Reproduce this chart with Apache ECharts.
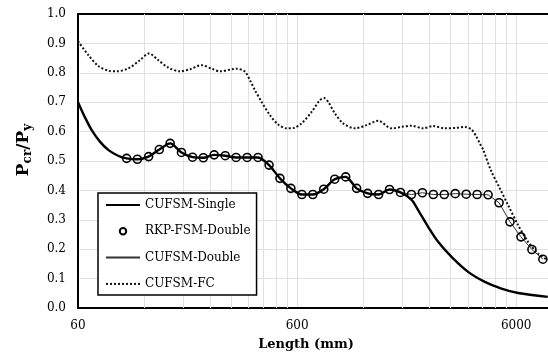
<!DOCTYPE html>
<html>
<head>
<meta charset="utf-8">
<script src="https://cdn.jsdelivr.net/npm/echarts@6/dist/echarts.min.js"></script>
<style>
html,body{margin:0;padding:0;background:#fff;}
#chart{width:548px;height:358px;}
</style>
</head>
<body>
<div id="chart"></div>
<script>
// ---- data (lengths in mm, values Pcr/Py) ----
const seriesNames = ['CUFSM-Single', 'RKP-FSM-Double', 'CUFSM-Double', 'CUFSM-FC'];

const rkpLengths = [100,112,126,141,158,178,200,224,251,282,316,355,398,447,501,562,631,708,794,891,1000,1122,1259,1413,1585,1778,1995,2239,2512,2818,3162,3548,3981,4467,5012,5623,6310,7079,7943];
const rkpValues = [0.509,0.506,0.515,0.539,0.560,0.529,0.513,0.511,0.521,0.518,0.512,0.512,0.512,0.486,0.441,0.407,0.386,0.386,0.404,0.438,0.446,0.407,0.390,0.386,0.403,0.393,0.386,0.392,0.386,0.386,0.389,0.387,0.386,0.385,0.358,0.293,0.242,0.199,0.166];

const doubleLengths = [100,112,126,141,158,178,200,224,251,282,316,355,398,447,501,562,631,708,794,891,1000,1122,1259,1413,1585,1778,1995,2239,2512,2818,3162,3548,3981,4467,5012,5623,6310,7079,7943];
const doubleValues = [0.509,0.506,0.515,0.539,0.560,0.529,0.513,0.511,0.521,0.518,0.512,0.512,0.512,0.486,0.441,0.407,0.386,0.386,0.404,0.438,0.446,0.407,0.390,0.386,0.403,0.393,0.386,0.392,0.386,0.386,0.389,0.387,0.386,0.385,0.358,0.293,0.242,0.199,0.166];

const singleLengths = [60,64.4,69.3,75.7,82.7,91.9,100,112,126,141,158,178,200,224,251,282,316,355,398,447,501,562,631,708,794,891,1000,1122,1259,1413,1585,1778,1998,2141,2378,2641,3041,3620,4316,5142,6120,8364];
const singleValues = [0.700,0.650,0.605,0.565,0.537,0.517,0.509,0.506,0.515,0.539,0.560,0.529,0.513,0.511,0.521,0.518,0.512,0.512,0.512,0.486,0.441,0.407,0.386,0.386,0.404,0.438,0.446,0.407,0.390,0.386,0.403,0.393,0.368,0.333,0.276,0.225,0.174,0.123,0.089,0.066,0.051,0.038];

const fcLengths = [60,66.9,74.3,82.5,90.1,101.8,115.1,126.5,139.5,154.9,175.2,194.6,220,244.4,266.7,306.7,317.8,346.8,365.4,385.1,413.3,450.9,492.1,537.6,575.9,629,698.8,762.4,797.6,832,892.6,974,1101,1245,1407,1619,1799,1998,2257,2507,2834,3205,3497,3752,3955,4094,4238,4595,5051,5512,6121,6799,7554,8250];
const fcValues = [0.908,0.860,0.823,0.807,0.805,0.815,0.843,0.866,0.843,0.818,0.805,0.812,0.826,0.814,0.805,0.813,0.814,0.804,0.775,0.741,0.701,0.656,0.624,0.611,0.612,0.628,0.667,0.707,0.714,0.701,0.662,0.628,0.611,0.622,0.637,0.611,0.616,0.620,0.611,0.619,0.611,0.613,0.616,0.607,0.582,0.560,0.539,0.469,0.407,0.350,0.282,0.225,0.185,0.165];

const xTickLabels = ['60', '600', '6000'];   // decades from 60 mm
const yTickLabels = ['0.0','0.1','0.2','0.3','0.4','0.5','0.6','0.7','0.8','0.9','1.0'];
const minorMultiples = [2,3,4,5,6,7,8,9];

// ---- helpers ----
const BASE = 60;
const xMax = 2.2;
const toX = L => Math.log10(L / BASE);
const pairs = (xs, ys) => xs.map((L, i) => [toX(L), ys[i]]);

const minorPos = [];
for (let d = 0; d < 3; d++) {
  minorMultiples.forEach(m => {
    const v = d + Math.log10(m);
    if (v < xMax) minorPos.push([v]);
  });
}

const FONT = 'DejaVu Serif';
const GRID_COLOR = '#e0e0e0';
const chart = echarts.init(document.getElementById('chart'), null, { renderer: 'canvas' });

chart.setOption({
  animation: false,
  backgroundColor: '#fff',
  grid: { left: 78, top: 14, right: -12, bottom: 50, outerBoundsMode: 'none', containLabel: false },
  xAxis: [{
    type: 'value', min: 0, max: xMax, interval: 1,
    axisLine: { show: true, onZero: false, lineStyle: { color: '#000', width: 2 } },
    axisTick: { show: false },
    splitLine: { show: true, lineStyle: { color: GRID_COLOR, width: 1, type: 'solid' } },
    axisLabel: {
      margin: 12, color: '#000', fontFamily: FONT, fontSize: 12, showMaxLabel: false,
      formatter: v => (Math.abs(v - Math.round(v)) < 1e-6 ? xTickLabels[Math.round(v)] : '')
    },
    name: 'Length (mm)', nameLocation: 'middle', nameGap: 30,
    nameTextStyle: { color: '#000', fontFamily: FONT, fontSize: 13, fontWeight: 'bold', padding: [0, 26, 0, 0] }
  }, {
    type: 'value', position: 'top', min: 0, max: xMax, interval: 1,
    axisLine: { show: true, onZero: false, lineStyle: { color: '#000', width: 2 } },
    axisTick: { show: false }, axisLabel: { show: false }, splitLine: { show: false }
  }],
  yAxis: {
    type: 'value', min: 0, max: 1, interval: 0.1,
    axisLine: { show: true, onZero: false, lineStyle: { color: '#000', width: 2 } },
    axisTick: { show: false },
    splitLine: { show: true, lineStyle: { color: GRID_COLOR, width: 1, type: 'solid' } },
    axisLabel: {
      margin: 12, color: '#000', fontFamily: FONT, fontSize: 12,
      formatter: v => yTickLabels[Math.round(v * 10)]
    },
    name: '{p|P}{s|cr}{p|/P}{s|y}', nameLocation: 'middle', nameGap: 44,
    nameTextStyle: {
      padding: [0, 0, 0, 22],
      rich: {
        p: { fontFamily: FONT, fontWeight: 'bold', fontSize: 17, lineHeight: 21, color: '#000' },
        s: { fontFamily: FONT, fontWeight: 'bold', fontSize: 12, lineHeight: 12, verticalAlign: 'bottom', color: '#000' }
      }
    }
  },
  legend: {
    orient: 'vertical', left: 98, top: 193, padding: [6, 6, 5, 7],
    itemGap: 14.3, itemWidth: 34, itemHeight: 8,
    borderColor: '#000', borderWidth: 1.5, backgroundColor: '#fff',
    textStyle: { fontFamily: FONT, fontSize: 12, color: '#000' },
    data: [
      { name: seriesNames[0], itemStyle: { opacity: 0 } },
      { name: seriesNames[1] },
      { name: seriesNames[2], itemStyle: { opacity: 0 } },
      { name: seriesNames[3], itemStyle: { opacity: 0 } }
    ]
  },
  series: [
    {
      name: 'minor-grid', type: 'custom', data: minorPos, z: 1, silent: true, clip: true,
      renderItem: (params, api) => {
        const top = api.coord([api.value(0), 1]);
        const bot = api.coord([api.value(0), 0]);
        const x = Math.round(top[0]) + 0.5;
        return { type: 'line', shape: { x1: x, y1: top[1], x2: x, y2: bot[1] },
                 style: { stroke: GRID_COLOR, lineWidth: 1 } };
      }
    },
    {
      name: seriesNames[3], type: 'line', data: pairs(fcLengths, fcValues), z: 2,
      smooth: 0.3, symbol: 'none',
      lineStyle: { color: '#111', width: 2, type: [2, 2] }, itemStyle: { color: '#111' }
    },
    {
      name: seriesNames[2], type: 'line', data: pairs(doubleLengths, doubleValues), z: 3,
      smooth: false, symbol: 'none',
      lineStyle: { color: '#333', width: 1 }, itemStyle: { color: '#333' }
    },
    {
      name: seriesNames[0], type: 'line', data: pairs(singleLengths, singleValues), z: 4,
      smooth: 0.3, symbol: 'none',
      lineStyle: { color: '#000', width: 2.4 }, itemStyle: { color: '#000' }
    },
    {
      name: seriesNames[1], type: 'line', data: pairs(rkpLengths, rkpValues), z: 5,
      symbol: 'circle', symbolSize: 8, showSymbol: true,
      lineStyle: { width: 0, opacity: 0 },
      itemStyle: { color: 'rgba(0,0,0,0)', borderColor: '#000', borderWidth: 1.6 }
    }
  ]
});
</script>
</body>
</html>
